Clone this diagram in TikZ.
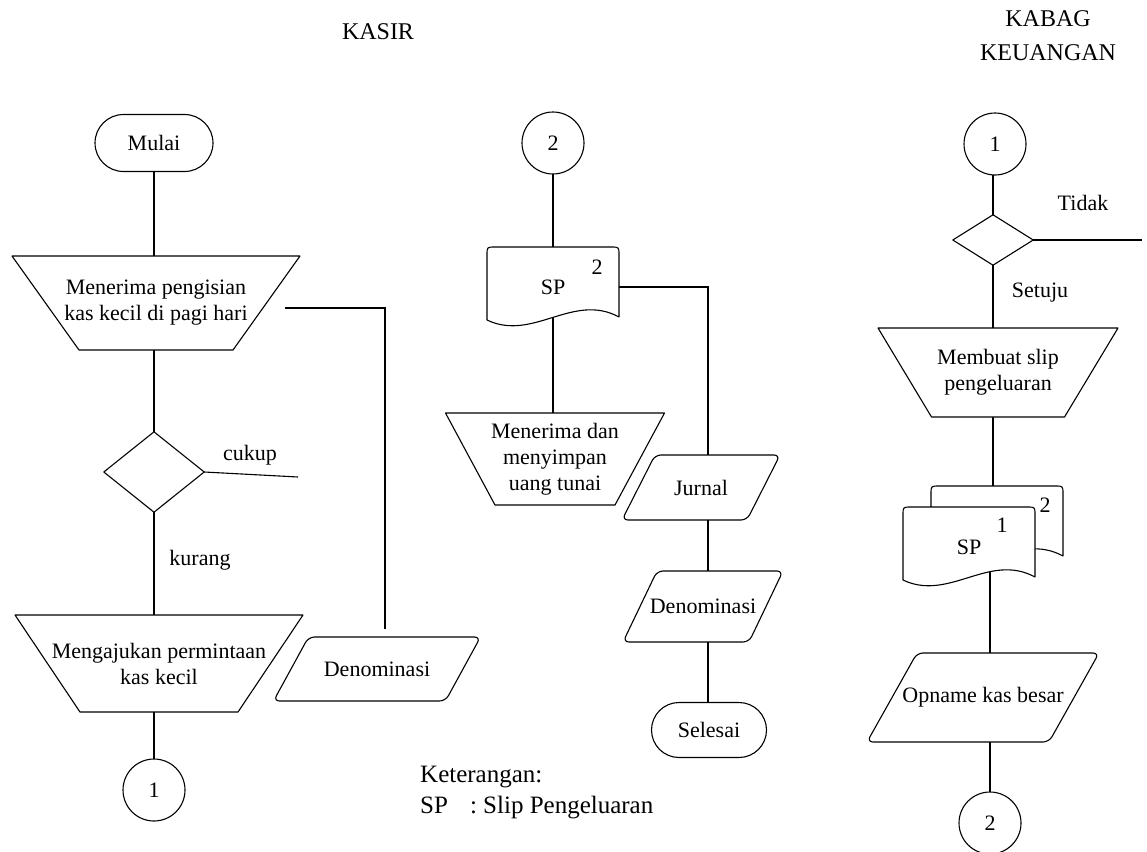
\documentclass[tikz,border=0pt]{standalone}
\usepackage{fontspec}
\setmainfont{Liberation Serif}
\usetikzlibrary{calc,shapes.misc}
\pgfdeclarelayer{bg}
\pgfdeclarelayer{shapes}
\pgfsetlayers{bg,shapes,main}

\tikzset{
  outline/.style={draw=black, line width=1.1pt, fill=white, line join=round},
  conn/.style={draw=black, line width=1.1pt},
  txt/.style={inner sep=0pt, align=center, font=\fontsize{22}{26}\selectfont},
  terminal/.style={rounded rectangle, outline, minimum width=118pt, minimum height=57pt,
    inner sep=0pt, font=\fontsize{22}{26}\selectfont},
  connector/.style={circle, outline, minimum size=62pt, inner sep=0pt,
    font=\fontsize{22}{26}\selectfont},
  lbl/.style={inner sep=0pt, font=\fontsize{22}{26}\selectfont},
  title/.style={inner sep=0pt, align=center, font=\fontsize{24}{34}\selectfont},
  note/.style={anchor=west, inner sep=0pt, font=\fontsize{25}{30}\selectfont},
  docsheet/.pic={
    \draw[outline] (-66,33) -- (-66,-32) .. controls (-66,-40) .. (-58,-40)
      -- (58,-40) .. controls (66,-40) .. (66,-32) -- (66,30)
      .. controls (20,5) and (-20,55) .. (-66,33) -- cycle;
  }
}

% manual operation: name, centre, top width, bottom width, height, text
\newcommand{\manop}[6]{%
  \node[txt, minimum width=#3, minimum height=#5] (#1) at #2 {#6};
  \begin{pgfonlayer}{shapes}
    \draw[outline] ($(#1.center)+(-#3/2,-#5/2)$) -- ++(#3,0)
      -- ($(#1.center)+(#4/2,#5/2)$) -- ++(-#4,0) -- cycle;
  \end{pgfonlayer}}

% data box: name, centre, face width, height, slant, text
\newcommand{\iobox}[6]{%
  \node[txt, minimum width=#3+#5, minimum height=#4] (#1) at #2 {#6};
  \begin{pgfonlayer}{shapes}
    \draw[outline, rounded corners=6pt] ($(#1.center)+(-#3/2+#5/2,-#4/2)$)
      -- ++(#3,0) -- ++(-#5,#4) -- ++(-#3,0) -- cycle;
  \end{pgfonlayer}}

% decision: name, centre, width, height
\newcommand{\decision}[4]{%
  \node[txt, minimum width=#3, minimum height=#4] (#1) at #2 {};
  \begin{pgfonlayer}{shapes}
    \draw[outline] (#1.north) -- (#1.east) -- (#1.south) -- (#1.west) -- cycle;
  \end{pgfonlayer}}

% document sheet: name, centre, text
\newcommand{\docsheet}[3]{%
  \node[txt, minimum width=132, minimum height=80] (#1) at #2 {#3};
  \begin{pgfonlayer}{shapes}
    \pic at (#1.center) {docsheet};
  \end{pgfonlayer}}

\begin{document}
\begin{tikzpicture}[x=1pt, y=-1pt]
\useasboundingbox (0,0) rectangle (1147,851);

% headings
\node[title] (hkasir) at (378,32) {KASIR};
\node[title] (hkabag) at (1048,36) {KABAG\\KEUANGAN};

% ---- KASIR, first column
\node[terminal] (start) at (154,143) {Mulai};
\manop{t1}{(156,303)}{288}{154}{94}{Menerima pengisian\\kas kecil di pagi hari}
\decision{dec1}{(154,472)}{100}{80}
\node[lbl] (lcukup) at (250,455) {cukup};
\node[lbl] (lkurang) at (200,560) {kurang};
\manop{t2}{(159,663.5)}{288}{158}{97}{Mengajukan permintaan\\kas kecil}
\node[connector] (c1) at (154,790) {1};
\iobox{den1}{(377,669)}{172}{64}{35}{Denominasi}
\coordinate (b1) at (285,308);
\coordinate (b2) at (385,308);
\coordinate (b3) at (385,629);
\coordinate (cukupend) at (298,477);

% ---- KASIR, second column
\node[connector] (c2) at (553,143) {2};
\docsheet{sp1}{(553,287)}{SP}
\node[lbl] (n1) at (597,267) {2};
\manop{t3}{(555,459)}{219}{120}{92}{Menerima dan\\menyimpan\\uang tunai}
\iobox{jurnal}{(701,487.5)}{125}{65}{33}{Jurnal}
\iobox{den2}{(703,606.5)}{126}{71}{34}{Denominasi}
\node[terminal, minimum width=115pt, minimum height=55pt] (selesai) at (709,730) {Selesai};
\coordinate (j1) at (708,287);

% ---- KABAG KEUANGAN
\node[connector] (c3) at (995,144) {1};
\decision{dec2}{(993,240)}{80}{50}
\node[lbl] (ltidak) at (1083,203) {Tidak};
\node[lbl] (lsetuju) at (1040,293) {Setuju};
\coordinate (tidakend) at (1142,240);
\manop{t4}{(998,372.5)}{240}{133}{89}{Membuat slip\\pengeluaran}
\docsheet{spb}{(997,526)}{}
\docsheet{spf}{(969,547)}{SP}
\node[lbl] (n2) at (1045,505) {2};
\node[lbl] (n3) at (1002,525) {1};
\iobox{opname}{(983,697.5)}{182}{89}{50}{Opname kas besar}
\node[connector] (c4) at (990,823) {2};

% legend
\node[note] (ket) at (420,777) {Keterangan:};
\node[note] (ketsp) at (420,808) {SP\hspace{22pt}: Slip Pengeluaran};

% ---- flow lines, kept beneath the symbols
\begin{pgfonlayer}{bg}
  \fill[white] (0,0) rectangle (1147,851);
  % first column
  \draw[conn] (dec1 |- start.center) -- (dec1 |- t1.center);
  \draw[conn] (dec1 |- t1.center) -- (dec1.center);
  \draw[conn] (dec1.center) -- (dec1 |- t2.center);
  \draw[conn] (dec1 |- t2.center) -- (c1.center);
  \draw[conn] (dec1.east) -- (cukupend);
  \draw[conn] (b1) -- (b2) -- (b3);
  % second column
  \draw[conn] (c2.center) -- (c2 |- sp1.center);
  \draw[conn] (c2 |- sp1.center) -- (c2 |- t3.center);
  \draw[conn] (sp1.east) -- (j1) -- (j1 |- jurnal.center);
  \draw[conn] (j1 |- jurnal.center) -- (j1 |- den2.center);
  \draw[conn] (j1 |- den2.center) -- (j1 |- selesai.center);
  % third column
  \draw[conn] (dec2 |- c3.center) -- (dec2.center);
  \draw[conn] (dec2.east) -- (tidakend);
  \draw[conn] (dec2.center) -- (dec2 |- t4.center);
  \draw[conn] (dec2 |- t4.center) -- (dec2 |- spb.center);
  \draw[conn] (c4 |- spf.center) -- (c4 |- opname.center);
  \draw[conn] (c4 |- opname.center) -- (c4.center);
\end{pgfonlayer}
\end{tikzpicture}
\end{document}
